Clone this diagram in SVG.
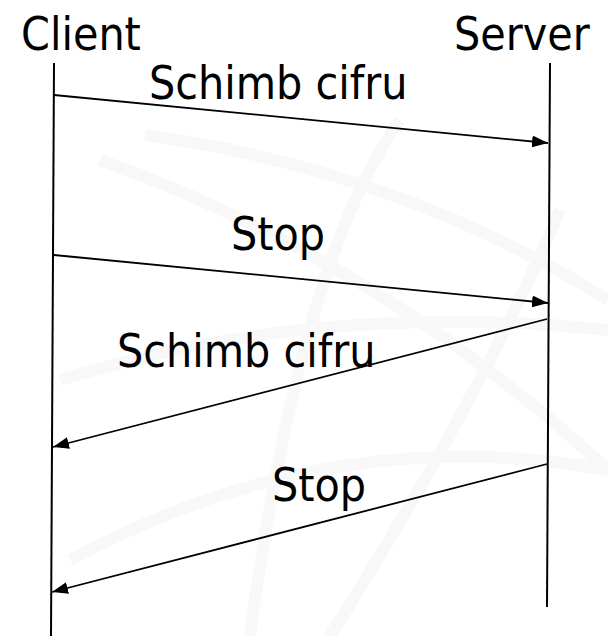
<svg xmlns="http://www.w3.org/2000/svg" width="608" height="636" viewBox="0 0 608 636">
<style>
.lbl{font-family:"DejaVu Sans Condensed","DejaVu Sans",sans-serif;font-stretch:condensed;font-size:46px;fill:#000}
.life{stroke:#000;stroke-width:2;fill:none}
.msg{stroke:#000;stroke-width:1.8;fill:none;marker-end:url(#ah)}
.wm{stroke:#f8f8f8;stroke-width:12;fill:none}
</style>
<defs>
<marker id="ah" viewBox="0 0 16 12" refX="16" refY="6" markerWidth="16" markerHeight="12" markerUnits="userSpaceOnUse" orient="auto">
<path d="M0,0 L16,6 L0,12 Z" fill="#000"/>
</marker>
</defs>
<rect width="608" height="636" fill="#fff"/>
<g id="watermark">
<path class="wm" d="M145,135 Q400,170 608,300"/>
<path class="wm" d="M100,160 Q380,260 608,470"/>
<path class="wm" d="M400,120 Q300,260 250,636"/>
<path class="wm" d="M560,210 Q480,400 330,636"/>
<path class="wm" d="M60,380 Q320,300 608,330"/>
<path class="wm" d="M70,560 Q330,420 608,470"/>
</g>
<g id="client">
<text class="lbl" x="21" y="50">Client</text>
<line class="life" x1="54" y1="63" x2="51" y2="636"/>
</g>
<g id="server">
<text class="lbl" x="454" y="50">Server</text>
<line class="life" x1="550" y1="63" x2="547" y2="607"/>
</g>
<g id="connectors">
<line class="msg" x1="54" y1="95" x2="548" y2="143"/>
<line class="msg" x1="54" y1="255" x2="548" y2="303"/>
<line class="msg" x1="547" y1="319" x2="53" y2="447"/>
<line class="msg" x1="547" y1="464" x2="52" y2="592"/>
</g>
<g id="labels">
<text class="lbl" x="149" y="99">Schimb cifru</text>
<text class="lbl" x="231" y="250">Stop</text>
<text class="lbl" x="117" y="367">Schimb cifru</text>
<text class="lbl" x="272" y="501">Stop</text>
</g>
</svg>
